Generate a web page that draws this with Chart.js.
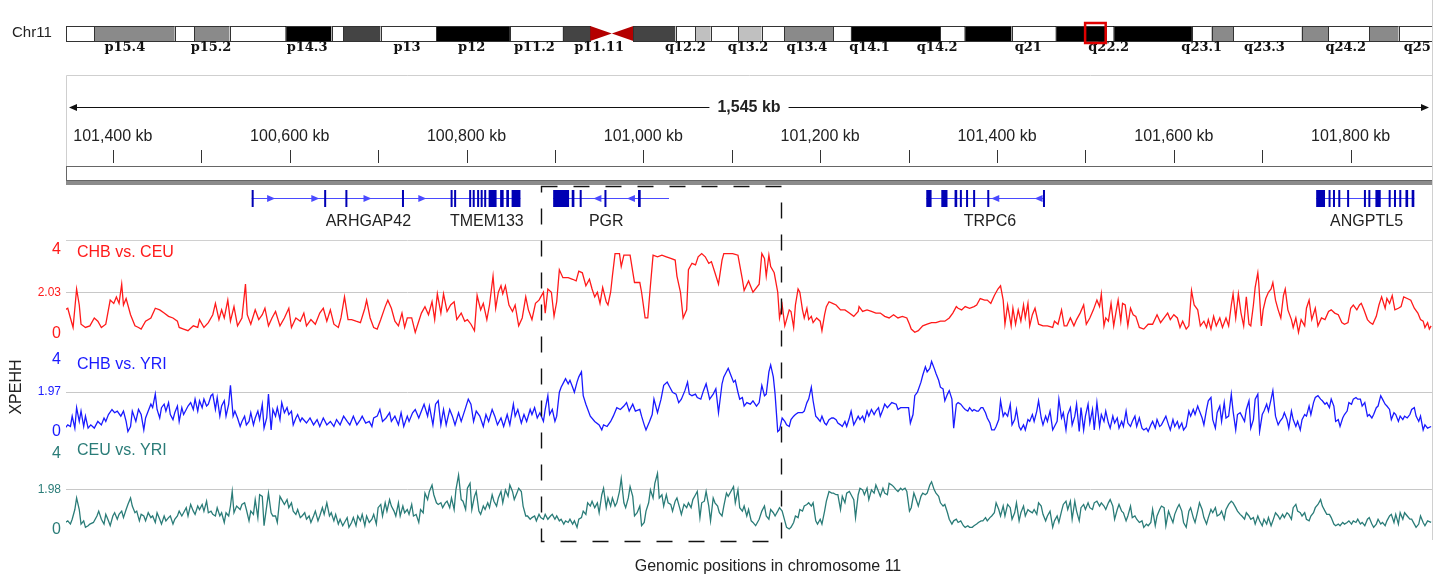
<!DOCTYPE html>
<html>
<head>
<meta charset="utf-8">
<script src="https://cdn.jsdelivr.net/npm/chart.js@4.4.0/dist/chart.umd.min.js"></script>
<style>
  html, body { margin: 0; padding: 0; background: #fff; }
  #wrap { position: relative; width: 1450px; height: 580px; }
</style>
</head>
<body>
<div id="wrap"><canvas id="xpehhChart" width="1450" height="580"></canvas></div>
<script>
// XP-EHH scores along the window, as [position kb, score]
const chbCeu = [
  [100346,1.19],[100349,1.27],[100352,0.79],[100355,0.32],[100359,2.22],[100362,1.43],[100364,0.48],[100369,0.32],[100374,0.40],[100379,0.79],
  [100383,0.63],[100387,0.32],[100392,0.48],[100397,1.67],[100401,1.51],[100404,1.83],[100407,1.51],[100410,2.46],[100412,1.43],[100415,1.75],
  [100420,0.95],[100425,0.40],[100429,0.32],[100432,0.24],[100437,0.63],[100443,0.79],[100448,1.27],[100453,1.19],[100458,1.03],[100463,0.87],
  [100468,0.79],[100473,0.63],[100475,0.32],[100480,0.24],[100485,0.16],[100491,0.40],[100496,0.32],[100498,0.71],[100503,0.32],[100508,0.56],
  [100513,0.95],[100516,1.51],[100520,0.71],[100523,1.19],[100526,0.79],[100530,1.67],[100533,0.63],[100537,1.35],[100541,0.40],[100546,0.79],
  [100550,2.46],[100552,0.95],[100556,0.48],[100561,1.19],[100565,0.71],[100569,0.95],[100572,1.27],[100576,0.40],[100580,0.79],[100584,1.11],
  [100589,0.40],[100594,0.79],[100599,1.27],[100602,0.32],[100607,0.79],[100612,0.63],[100616,1.03],[100619,0.40],[100624,0.71],[100629,0.48],
  [100634,1.03],[100638,1.27],[100642,0.63],[100646,1.19],[100650,0.48],[100655,0.32],[100658,0.79],[100662,1.83],[100666,0.71],[100670,0.71],
  [100675,0.63],[100680,0.56],[100685,1.27],[100687,1.67],[100691,0.79],[100695,0.32],[100699,0.24],[100703,0.71],[100708,1.35],[100711,1.67],
  [100715,1.27],[100719,0.63],[100723,0.40],[100727,1.03],[100730,0.32],[100733,0.79],[100738,0.79],[100742,0.08],[100746,0.63],[100749,1.03],
  [100753,1.35],[100757,0.95],[100761,1.59],[100764,0.71],[100767,1.98],[100771,1.03],[100774,1.98],[100778,1.11],[100782,1.43],[100786,1.59],
  [100789,0.71],[100794,1.03],[100798,0.63],[100801,0.71],[100805,0.48],[100809,0.16],[100812,1.90],[100816,1.19],[100819,1.51],[100823,0.71],
  [100826,1.43],[100830,2.86],[100833,1.27],[100836,2.06],[100839,2.38],[100841,1.98],[100844,2.38],[100848,1.43],[100852,1.11],[100855,1.43],
  [100859,0.40],[100863,0.79],[100867,1.83],[100870,1.19],[100874,0.71],[100878,1.51],[100882,1.67],[100884,1.83],[100887,2.06],[100889,1.03],
  [100892,2.22],[100896,2.06],[100899,0.87],[100902,1.59],[100905,3.17],[100909,2.78],[100915,2.78],[100920,2.70],[100924,2.62],[100927,3.10],
  [100931,3.02],[100935,2.38],[100939,2.70],[100942,2.22],[100945,1.83],[100948,2.06],[100951,1.51],[100954,2.30],[100958,1.59],[100960,1.43],
  [100963,2.06],[100965,2.86],[100968,3.97],[100973,3.97],[100975,3.33],[100978,3.89],[100980,3.89],[100985,3.89],[100990,2.54],[100996,2.54],
  [100998,2.06],[101002,0.79],[101005,0.79],[101008,2.38],[101011,3.89],[101016,3.81],[101021,3.89],[101026,3.81],[101031,3.73],[101036,3.65],
  [101038,2.86],[101042,2.06],[101045,0.79],[101049,1.19],[101051,3.17],[101055,3.49],[101059,3.41],[101062,3.81],[101066,3.97],[101070,3.81],
  [101074,3.49],[101077,3.57],[101081,3.02],[101085,2.46],[101089,3.65],[101091,3.97],[101094,3.97],[101101,3.97],[101107,3.89],[101112,2.70],
  [101114,2.14],[101119,2.62],[101124,2.06],[101131,2.46],[101134,3.97],[101137,3.73],[101139,2.86],[101142,3.89],[101144,3.33],[101148,3.02],
  [101152,2.06],[101154,0.79],[101157,1.43],[101160,0.40],[101162,0.71],[101165,1.19],[101167,1.11],[101170,0.32],[101172,1.43],[101175,2.22],
  [101177,2.06],[101180,1.19],[101182,0.79],[101185,1.27],[101187,0.71],[101190,0.87],[101192,0.56],[101196,0.79],[101200,0.63],[101202,0.16],
  [101205,0.95],[101207,1.35],[101210,1.59],[101214,1.51],[101218,1.43],[101223,1.19],[101228,1.19],[101233,1.03],[101238,0.87],[101243,1.11],
  [101244,1.35],[101248,1.11],[101253,1.19],[101258,1.11],[101263,1.03],[101268,1.03],[101273,0.87],[101278,0.79],[101283,0.95],[101288,0.79],
  [101293,0.87],[101298,0.79],[101301,0.48],[101303,0.24],[101307,0.08],[101311,0.16],[101316,0.40],[101321,0.48],[101326,0.56],[101331,0.56],
  [101336,0.63],[101341,0.63],[101346,0.79],[101350,1.03],[101354,1.35],[101356,1.27],[101360,1.19],[101364,1.35],[101369,1.27],[101374,1.35],
  [101377,1.43],[101381,1.75],[101386,1.67],[101389,1.67],[101393,1.51],[101397,1.90],[101401,2.22],[101404,2.38],[101407,1.67],[101409,0.48],
  [101412,1.43],[101416,0.40],[101418,1.27],[101421,0.48],[101424,1.19],[101427,0.63],[101430,1.43],[101432,0.79],[101435,1.51],[101437,0.40],
  [101440,0.95],[101443,1.27],[101447,0.48],[101452,0.40],[101457,0.40],[101463,0.32],[101465,0.63],[101469,0.48],[101473,1.19],[101476,0.40],
  [101479,0.40],[101483,0.79],[101487,0.40],[101490,0.71],[101494,1.03],[101498,1.43],[101501,0.48],[101505,0.79],[101509,1.19],[101513,1.67],
  [101516,1.35],[101518,1.98],[101521,0.40],[101523,0.79],[101526,0.63],[101529,1.51],[101532,0.40],[101535,1.19],[101537,1.67],[101540,0.63],
  [101542,1.51],[101545,1.43],[101548,0.40],[101551,1.27],[101554,0.95],[101557,0.87],[101561,0.32],[101566,0.24],[101571,0.48],[101576,0.48],
  [101581,0.95],[101585,0.56],[101589,0.79],[101593,1.03],[101596,0.71],[101600,0.95],[101604,0.79],[101607,0.32],[101610,0.63],[101614,0.24],
  [101617,0.40],[101620,2.14],[101623,1.43],[101627,1.19],[101630,0.40],[101634,0.63],[101637,0.32],[101639,0.71],[101642,0.24],[101645,0.87],
  [101648,0.40],[101652,0.79],[101655,0.32],[101659,0.79],[101662,0.40],[101665,1.43],[101667,1.98],[101670,0.79],[101673,1.98],[101676,1.03],
  [101679,0.40],[101682,1.83],[101685,0.48],[101687,0.40],[101690,1.43],[101692,2.30],[101695,3.02],[101696,2.54],[101699,0.40],[101701,1.19],
  [101704,1.75],[101707,2.06],[101710,2.22],[101712,2.54],[101715,1.67],[101718,1.19],[101721,0.79],[101724,1.90],[101726,2.22],[101729,1.19],
  [101733,0.71],[101735,0.32],[101738,0.79],[101741,0.08],[101744,0.71],[101748,0.40],[101750,1.27],[101753,1.67],[101756,0.71],[101760,1.27],
  [101763,0.40],[101767,0.79],[101771,0.71],[101775,1.11],[101778,1.19],[101782,1.03],[101786,0.95],[101790,0.56],[101793,0.48],[101797,0.56],
  [101800,1.27],[101803,1.43],[101807,1.19],[101810,1.43],[101812,1.51],[101815,1.19],[101819,0.71],[101822,0.56],[101825,0.48],[101829,0.87],
  [101832,1.43],[101835,1.83],[101839,1.27],[101841,1.75],[101844,1.51],[101847,1.90],[101850,1.19],[101854,1.27],[101857,1.35],[101860,1.83],
  [101864,1.75],[101868,1.67],[101872,1.27],[101876,1.03],[101879,0.71],[101882,0.63],[101884,0.32],[101887,0.56],[101889,0.24],[101891,0.40]
];

const chbYri = [
  [100346,0.19],[100349,0.35],[100352,0.27],[100354,0.78],[100357,0.19],[100359,1.20],[100362,0.52],[100364,1.03],[100367,0.27],[100369,0.78],
  [100372,0.19],[100375,0.35],[100379,0.19],[100383,0.52],[100387,0.35],[100390,0.69],[100392,0.52],[100395,0.86],[100399,1.11],[100402,0.95],
  [100405,1.03],[100409,0.78],[100412,1.03],[100415,0.52],[100417,0.02],[100420,0.27],[100422,1.03],[100426,0.52],[100429,1.11],[100432,0.86],
  [100435,0.10],[100437,0.69],[100440,1.03],[100443,1.37],[100445,1.20],[100448,1.87],[100450,1.11],[100453,0.69],[100455,1.20],[100458,1.37],
  [100460,1.03],[100463,1.45],[100465,0.86],[100468,0.61],[100470,0.95],[100473,1.28],[100475,0.52],[100478,1.20],[100480,0.86],[100483,1.11],
  [100485,1.28],[100488,1.45],[100491,1.11],[100493,1.62],[100496,1.03],[100498,1.54],[100501,1.20],[100503,1.62],[100506,1.28],[100508,1.37],
  [100511,1.79],[100513,1.87],[100516,1.11],[100518,1.70],[100521,0.78],[100523,1.28],[100526,1.54],[100528,0.78],[100531,1.37],[100533,2.30],
  [100536,0.78],[100538,1.03],[100541,0.69],[100544,0.27],[100546,0.52],[100549,0.78],[100551,0.35],[100554,0.52],[100556,0.95],[100559,0.35],
  [100561,0.69],[100564,1.03],[100566,0.61],[100569,1.37],[100571,0.19],[100574,0.69],[100576,1.87],[100579,0.10],[100581,1.11],[100584,0.78],
  [100586,1.20],[100589,0.61],[100591,1.45],[100594,0.95],[100597,1.20],[100599,0.86],[100602,1.03],[100604,0.35],[100607,0.69],[100609,0.86],
  [100612,0.52],[100614,0.69],[100619,0.44],[100623,0.69],[100627,0.35],[100631,0.61],[100634,0.27],[100638,0.69],[100642,0.35],[100646,0.52],
  [100650,0.27],[100653,0.61],[100657,0.35],[100661,0.78],[100665,0.52],[100668,0.35],[100672,0.78],[100676,0.35],[100680,0.61],[100682,0.78],
  [100686,0.44],[100690,0.52],[100693,0.27],[100695,0.69],[100699,0.78],[100702,1.11],[100705,0.52],[100709,0.69],[100713,0.95],[100715,0.52],
  [100719,0.78],[100723,0.35],[100726,0.95],[100729,0.27],[100733,0.78],[100735,0.52],[100739,0.95],[100742,1.11],[100746,0.69],[100749,1.03],
  [100752,1.37],[100756,0.78],[100758,1.28],[100762,0.35],[100765,1.37],[100768,1.54],[100771,0.35],[100774,1.11],[100777,0.35],[100781,1.11],
  [100784,0.78],[100787,0.35],[100791,0.95],[100794,0.52],[100799,1.20],[100802,1.62],[100805,1.37],[100808,0.52],[100811,1.03],[100815,0.78],
  [100819,0.27],[100822,0.86],[100825,0.52],[100829,1.11],[100832,0.78],[100835,0.35],[100839,0.69],[100842,0.27],[100846,0.86],[100849,0.35],
  [100853,1.37],[100855,0.78],[100858,1.11],[100862,0.44],[100865,0.86],[100868,0.52],[100872,1.11],[100874,0.86],[100877,1.20],[100880,0.69],
  [100883,0.95],[100887,0.52],[100889,1.11],[100892,1.79],[100894,0.86],[100897,1.11],[100900,0.52],[100902,0.78],[100905,1.96],[100907,2.21],
  [100910,2.46],[100912,2.63],[100915,2.38],[100917,2.55],[100920,2.21],[100922,1.96],[100925,2.46],[100927,2.72],[100930,2.97],[100932,1.79],
  [100935,1.37],[100940,0.78],[100945,0.52],[100950,0.35],[100953,0.10],[100955,0.35],[100959,0.27],[100963,0.52],[100966,0.78],[100970,1.20],
  [100974,1.11],[100978,1.28],[100981,1.45],[100984,1.03],[100988,1.37],[100991,1.03],[100996,1.11],[100998,0.78],[101001,0.35],[101003,0.10],
  [101007,0.52],[101010,0.86],[101012,1.62],[101016,0.95],[101020,1.62],[101023,2.30],[101027,2.46],[101030,2.21],[101033,1.96],[101037,1.87],
  [101040,1.45],[101043,1.62],[101047,2.04],[101050,2.46],[101052,1.87],[101055,1.79],[101059,1.87],[101061,1.70],[101065,1.62],[101068,2.04],
  [101071,2.38],[101075,1.62],[101079,1.87],[101082,2.13],[101085,0.95],[101089,2.38],[101091,2.72],[101094,2.97],[101096,3.14],[101099,2.80],
  [101102,2.46],[101104,2.55],[101107,1.96],[101109,1.62],[101112,1.70],[101114,1.28],[101117,1.45],[101121,1.37],[101124,1.54],[101128,1.28],
  [101131,1.45],[101134,2.30],[101137,1.79],[101139,1.87],[101142,2.97],[101144,3.31],[101147,2.72],[101149,1.87],[101152,0.02],[101154,0.10],
  [101157,0.69],[101160,0.52],[101162,0.35],[101165,0.27],[101167,0.61],[101170,0.78],[101172,0.86],[101175,0.95],[101180,0.95],[101182,1.03],
  [101185,1.45],[101187,1.62],[101190,2.21],[101192,1.54],[101195,0.78],[101197,0.69],[101200,0.52],[101202,0.78],[101205,0.44],[101207,0.35],
  [101210,0.61],[101213,0.69],[101215,0.69],[101218,0.61],[101220,0.44],[101223,0.35],[101225,0.27],[101228,0.52],[101230,0.27],[101233,0.69],
  [101235,1.03],[101238,0.35],[101240,0.52],[101243,0.78],[101245,0.61],[101248,0.78],[101250,0.52],[101253,1.03],[101255,0.78],[101258,1.11],
  [101261,0.86],[101263,1.03],[101266,1.20],[101268,0.78],[101271,1.11],[101273,1.37],[101276,1.20],[101281,1.45],[101286,1.37],[101288,1.11],
  [101291,1.20],[101296,1.20],[101300,1.20],[101302,0.44],[101305,0.86],[101307,1.79],[101310,1.96],[101314,2.46],[101316,2.80],[101319,3.22],
  [101321,2.97],[101324,3.14],[101326,3.48],[101329,3.14],[101331,2.89],[101334,2.55],[101336,2.21],[101339,2.13],[101341,1.54],[101344,1.87],
  [101346,2.04],[101349,1.62],[101351,0.19],[101354,1.37],[101356,1.45],[101359,1.37],[101362,1.20],[101364,1.11],[101367,1.03],[101369,1.20],
  [101372,1.03],[101374,1.11],[101377,1.03],[101379,1.03],[101382,1.20],[101384,1.20],[101387,0.95],[101389,0.69],[101392,0.44],[101394,0.10],
  [101397,0.10],[101399,0.27],[101402,0.61],[101404,1.54],[101407,0.78],[101409,0.95],[101412,0.78],[101415,1.37],[101417,0.35],[101420,0.61],
  [101422,1.11],[101425,0.27],[101427,0.10],[101430,0.35],[101432,0.10],[101435,0.61],[101437,0.52],[101440,0.86],[101442,0.52],[101445,1.03],
  [101447,1.54],[101450,0.69],[101452,0.35],[101455,0.78],[101457,0.52],[101460,1.03],[101463,0.10],[101465,0.27],[101468,0.52],[101470,1.62],
  [101473,0.69],[101475,0.95],[101478,0.10],[101480,0.86],[101483,1.20],[101485,0.35],[101488,0.78],[101490,1.37],[101493,0.02],[101495,1.20],
  [101498,0.10],[101500,0.78],[101503,1.37],[101505,0.44],[101508,1.11],[101510,0.10],[101513,1.45],[101516,0.27],[101518,0.86],[101521,0.52],
  [101523,1.03],[101526,0.44],[101528,0.19],[101531,0.78],[101533,0.44],[101536,0.69],[101538,0.19],[101541,0.52],[101543,0.27],[101546,1.03],
  [101548,0.44],[101551,0.27],[101553,0.52],[101556,0.78],[101558,0.27],[101561,0.69],[101564,0.19],[101566,0.10],[101569,0.19],[101571,0.02],
  [101574,0.35],[101576,0.52],[101579,0.19],[101581,0.61],[101584,0.27],[101586,0.35],[101589,0.61],[101591,0.78],[101594,0.35],[101596,0.10],
  [101599,0.61],[101601,0.27],[101604,0.52],[101606,0.19],[101609,0.44],[101611,0.10],[101614,0.27],[101617,1.03],[101619,0.78],[101622,1.11],
  [101624,0.86],[101627,1.28],[101629,1.03],[101632,0.69],[101634,0.35],[101637,1.11],[101639,1.54],[101642,1.70],[101644,0.61],[101647,0.19],
  [101649,0.95],[101652,1.28],[101654,0.52],[101657,1.45],[101659,0.69],[101662,0.78],[101665,1.87],[101667,1.03],[101670,0.10],[101672,0.86],
  [101675,0.95],[101677,0.78],[101680,0.52],[101682,1.11],[101685,1.54],[101687,0.19],[101690,0.61],[101692,1.62],[101695,1.87],[101697,0.02],
  [101700,0.86],[101702,1.03],[101705,1.37],[101707,1.03],[101710,1.62],[101712,2.04],[101715,0.78],[101718,0.35],[101720,0.52],[101723,0.69],
  [101725,0.95],[101728,0.61],[101730,0.19],[101733,1.03],[101735,0.61],[101738,0.27],[101740,0.52],[101743,0.10],[101745,0.61],[101748,0.86],
  [101750,0.78],[101753,1.28],[101755,0.86],[101758,1.45],[101760,1.70],[101763,1.79],[101766,1.62],[101768,1.54],[101771,1.37],[101773,1.45],
  [101776,1.20],[101778,1.62],[101781,1.28],[101783,0.52],[101786,0.61],[101788,0.27],[101791,0.69],[101793,0.86],[101796,1.03],[101798,1.45],
  [101801,1.37],[101803,1.62],[101806,1.70],[101808,1.62],[101811,1.62],[101813,1.28],[101816,1.45],[101819,0.78],[101821,0.86],[101824,0.69],
  [101826,0.86],[101829,1.20],[101831,1.28],[101834,1.79],[101836,1.62],[101839,1.37],[101841,1.28],[101844,1.11],[101846,0.61],[101849,0.95],
  [101851,0.86],[101854,0.52],[101856,0.78],[101859,0.61],[101861,0.78],[101864,0.69],[101867,0.86],[101869,1.11],[101872,1.20],[101874,0.78],
  [101877,0.52],[101879,0.78],[101882,0.10],[101884,0.35],[101887,0.19],[101891,0.27]
];

const ceuYri = [
  [100346,0.37],[100349,0.45],[100352,0.29],[100354,0.53],[100357,1.01],[100359,1.58],[100362,1.01],[100364,0.29],[100367,0.45],[100369,0.13],
  [100372,0.21],[100374,0.29],[100378,0.37],[100382,0.69],[100384,0.93],[100387,0.53],[100390,0.29],[100392,0.77],[100395,0.45],[100397,0.21],
  [100400,0.69],[100402,0.85],[100405,0.53],[100407,0.77],[100410,0.93],[100412,0.61],[100415,1.01],[100417,1.26],[100420,1.58],[100422,1.18],
  [100425,0.85],[100427,0.93],[100430,0.45],[100432,0.77],[100435,0.69],[100437,0.45],[100440,0.85],[100443,0.61],[100445,0.69],[100448,0.37],
  [100450,0.85],[100453,0.53],[100455,0.29],[100458,0.69],[100460,0.45],[100463,0.61],[100465,0.69],[100468,0.29],[100470,0.53],[100473,0.69],
  [100475,0.93],[100478,0.69],[100480,0.85],[100483,1.10],[100485,0.69],[100488,1.26],[100491,0.93],[100493,0.77],[100496,1.18],[100498,1.01],
  [100501,1.26],[100503,0.93],[100506,1.42],[100508,0.85],[100511,0.93],[100513,0.77],[100516,0.69],[100518,1.10],[100521,0.69],[100523,0.85],
  [100526,0.37],[100528,0.85],[100531,0.69],[100533,1.18],[100535,1.90],[100537,0.85],[100540,1.18],[100544,1.01],[100546,1.26],[100549,1.34],
  [100551,1.01],[100554,0.45],[100556,0.93],[100559,0.77],[100561,1.50],[100564,0.61],[100566,1.74],[100569,1.66],[100571,0.21],[100574,1.18],
  [100576,1.82],[100579,0.85],[100581,0.69],[100584,0.69],[100586,0.37],[100589,1.66],[100591,1.50],[100594,1.26],[100597,1.50],[100599,1.10],
  [100602,1.34],[100604,0.93],[100607,0.77],[100609,1.01],[100612,0.61],[100614,0.69],[100617,0.85],[100619,0.53],[100622,0.69],[100624,0.37],
  [100627,0.69],[100629,0.93],[100632,0.45],[100634,0.69],[100637,1.10],[100639,0.77],[100642,1.34],[100645,0.69],[100647,0.85],[100650,0.45],
  [100652,0.77],[100655,0.29],[100657,0.53],[100660,0.21],[100662,0.37],[100665,0.61],[100667,0.13],[100670,0.37],[100672,0.61],[100675,0.21],
  [100677,0.69],[100680,0.45],[100682,0.77],[100685,0.21],[100687,0.69],[100690,0.37],[100693,0.53],[100695,0.77],[100698,0.29],[100700,1.10],
  [100703,1.26],[100705,0.69],[100708,1.34],[100710,0.93],[100713,1.50],[100715,1.18],[100718,0.93],[100720,0.69],[100723,1.34],[100725,0.69],
  [100728,1.18],[100730,0.85],[100733,1.01],[100735,0.77],[100738,1.26],[100740,0.69],[100743,0.77],[100746,0.37],[100748,1.01],[100751,0.85],
  [100753,1.82],[100756,1.50],[100758,1.90],[100761,2.22],[100763,1.74],[100766,1.34],[100768,1.26],[100771,1.34],[100773,1.10],[100776,1.34],
  [100778,1.42],[100781,1.10],[100783,1.58],[100786,1.01],[100788,1.98],[100791,2.71],[100794,1.50],[100796,1.42],[100799,1.01],[100801,2.06],
  [100804,2.30],[100806,1.01],[100809,1.66],[100811,1.90],[100814,0.93],[100816,0.77],[100819,1.18],[100821,1.01],[100824,1.34],[100826,1.10],
  [100829,1.74],[100831,1.42],[100834,1.18],[100836,1.58],[100839,1.90],[100841,1.34],[100844,1.98],[100847,1.66],[100849,2.22],[100852,1.90],
  [100854,1.50],[100857,1.82],[100859,2.06],[100862,1.90],[100864,1.18],[100867,0.69],[100869,0.69],[100872,0.53],[100874,0.61],[100877,0.69],
  [100879,0.45],[100882,0.77],[100884,0.61],[100887,0.53],[100889,0.77],[100892,0.53],[100895,0.69],[100897,0.77],[100900,0.53],[100902,0.69],
  [100905,0.45],[100907,0.53],[100910,0.29],[100912,0.45],[100915,0.37],[100917,0.53],[100920,0.29],[100922,0.45],[100925,0.13],[100927,0.53],
  [100930,0.61],[100932,0.93],[100935,0.77],[100937,1.34],[100940,1.18],[100942,1.42],[100945,1.10],[100948,1.34],[100950,0.85],[100953,1.74],
  [100955,2.06],[100958,1.10],[100960,1.58],[100963,1.18],[100965,1.58],[100968,1.18],[100970,1.34],[100973,1.90],[100975,2.54],[100978,1.34],
  [100980,1.10],[100983,1.58],[100985,2.14],[100988,1.66],[100990,0.69],[100993,0.85],[100996,1.18],[100998,0.21],[101001,0.37],[101003,0.93],
  [101006,1.34],[101008,1.98],[101011,1.58],[101013,2.30],[101016,2.79],[101018,1.58],[101021,1.74],[101023,1.18],[101026,1.74],[101028,1.34],
  [101031,1.26],[101033,0.93],[101036,1.42],[101038,1.58],[101041,1.10],[101043,0.77],[101046,1.26],[101049,1.10],[101051,1.34],[101054,1.10],
  [101056,1.50],[101059,1.74],[101061,1.90],[101064,0.61],[101066,1.34],[101069,1.42],[101071,1.90],[101074,1.18],[101076,0.45],[101079,1.58],
  [101081,1.34],[101084,1.18],[101086,0.85],[101089,0.69],[101091,1.18],[101094,1.82],[101096,1.66],[101099,1.90],[101102,2.14],[101104,1.34],
  [101107,1.98],[101109,1.10],[101112,0.93],[101114,1.18],[101117,0.69],[101119,1.01],[101122,0.45],[101124,0.37],[101127,0.21],[101131,0.53],
  [101134,0.93],[101137,1.18],[101139,0.69],[101142,0.53],[101144,1.01],[101147,0.85],[101149,0.69],[101152,0.93],[101154,1.10],[101157,0.93],
  [101160,0.45],[101162,0.13],[101165,0.05],[101167,0.13],[101170,0.37],[101172,0.69],[101175,0.61],[101177,1.01],[101180,0.93],[101182,1.18],
  [101185,1.26],[101187,1.34],[101190,1.18],[101192,1.34],[101195,0.45],[101197,0.29],[101200,0.53],[101202,0.29],[101205,0.93],[101207,1.42],
  [101210,1.90],[101213,1.82],[101215,1.82],[101218,1.74],[101220,1.74],[101223,1.01],[101225,1.66],[101228,1.34],[101230,1.82],[101233,1.90],
  [101235,1.74],[101238,1.50],[101240,0.61],[101243,1.74],[101245,2.06],[101248,1.98],[101250,1.74],[101253,2.06],[101255,1.50],[101258,1.98],
  [101261,1.82],[101263,2.22],[101266,1.90],[101268,1.66],[101271,2.06],[101273,1.82],[101276,1.74],[101278,2.30],[101281,2.22],[101283,2.14],
  [101286,1.98],[101288,1.90],[101291,2.06],[101293,1.98],[101296,2.06],[101298,1.90],[101301,0.93],[101303,1.10],[101306,1.82],[101308,1.58],
  [101311,1.18],[101314,1.66],[101316,1.82],[101319,1.74],[101321,1.82],[101324,2.22],[101326,2.38],[101329,1.98],[101331,1.82],[101334,1.66],
  [101336,1.34],[101339,1.18],[101341,1.26],[101344,0.85],[101346,0.53],[101349,0.29],[101351,0.45],[101354,0.53],[101356,0.37],[101359,0.45],
  [101362,0.21],[101364,0.13],[101367,0.21],[101369,0.13],[101372,0.13],[101374,0.21],[101377,0.29],[101379,0.37],[101382,0.45],[101384,0.45],
  [101387,0.61],[101389,0.45],[101392,0.61],[101394,0.69],[101397,0.85],[101399,1.34],[101402,1.01],[101404,0.69],[101407,1.18],[101409,0.69],
  [101412,1.26],[101415,1.10],[101417,0.53],[101420,0.85],[101422,1.34],[101425,0.45],[101427,0.85],[101430,1.18],[101432,0.69],[101435,1.01],
  [101437,0.93],[101440,0.85],[101442,1.01],[101445,0.77],[101447,1.34],[101450,1.18],[101452,0.77],[101455,0.45],[101457,0.69],[101460,0.93],
  [101463,0.13],[101465,0.45],[101468,0.69],[101470,0.37],[101473,0.93],[101475,1.26],[101478,1.42],[101480,1.01],[101483,1.42],[101485,0.53],
  [101488,1.42],[101490,0.93],[101493,0.45],[101495,1.10],[101498,1.26],[101500,1.01],[101503,1.34],[101505,1.10],[101508,1.01],[101510,1.34],
  [101513,1.42],[101516,1.18],[101518,1.34],[101521,1.18],[101523,1.01],[101526,1.34],[101528,1.50],[101531,1.18],[101533,0.53],[101536,1.01],
  [101538,1.26],[101541,0.93],[101543,0.85],[101546,0.45],[101548,0.69],[101551,1.18],[101553,0.61],[101556,0.69],[101558,0.53],[101561,0.37],
  [101564,0.45],[101566,0.13],[101569,0.29],[101571,0.21],[101574,0.37],[101576,1.01],[101579,0.21],[101581,0.69],[101584,1.01],[101586,1.18],
  [101589,1.10],[101591,0.21],[101594,0.93],[101596,0.69],[101599,0.37],[101601,0.77],[101604,1.10],[101606,1.26],[101609,0.93],[101611,0.37],
  [101614,0.13],[101617,0.93],[101619,1.10],[101622,0.61],[101624,0.37],[101627,0.93],[101629,1.34],[101632,1.01],[101634,0.61],[101637,0.29],
  [101639,0.61],[101642,1.01],[101644,0.85],[101647,1.10],[101649,0.69],[101652,0.77],[101654,0.93],[101657,0.53],[101659,1.01],[101662,1.26],
  [101665,1.42],[101667,1.34],[101670,1.10],[101672,0.93],[101675,0.77],[101677,0.69],[101680,0.53],[101682,0.85],[101685,0.69],[101687,0.53],
  [101690,0.61],[101692,0.29],[101695,0.69],[101697,0.45],[101700,0.21],[101702,0.53],[101705,0.29],[101707,0.61],[101710,0.21],[101712,0.45],
  [101715,0.85],[101718,0.69],[101720,0.53],[101723,0.77],[101725,0.61],[101728,0.85],[101730,0.77],[101733,0.53],[101735,1.10],[101738,1.26],
  [101740,0.93],[101743,0.85],[101745,0.69],[101748,0.85],[101750,0.53],[101753,0.45],[101755,0.69],[101758,0.85],[101760,1.10],[101763,1.26],
  [101766,1.50],[101768,1.18],[101771,0.93],[101773,0.77],[101776,0.77],[101778,0.61],[101781,0.29],[101783,0.21],[101786,0.29],[101788,0.21],
  [101791,0.37],[101793,0.29],[101796,0.37],[101798,0.45],[101801,0.29],[101803,0.45],[101806,0.37],[101808,0.53],[101811,0.29],[101813,0.37],
  [101816,0.21],[101819,0.53],[101821,0.61],[101824,0.29],[101826,0.13],[101829,0.29],[101831,0.53],[101834,0.29],[101836,0.37],[101839,0.21],
  [101841,0.45],[101844,0.69],[101846,0.77],[101849,0.37],[101851,0.77],[101854,0.29],[101856,0.85],[101859,0.53],[101861,0.85],[101864,0.69],
  [101867,0.53],[101869,0.53],[101872,0.29],[101874,0.13],[101877,0.29],[101879,0.69],[101882,0.37],[101884,0.21],[101887,0.45],[101891,0.37]
];

const trackNames = ['CHB vs. CEU', 'CHB vs. YRI', 'CEU vs. YRI'];
const thresholds = [2.03, 1.97, 1.98];

// ruler (kb)
const rulerTicks = [100400, 100500, 100600, 100700, 100800, 100900, 101000, 101100, 101200, 101300, 101400, 101500, 101600, 101700, 101800];
const rulerLabelAt = [100400, 100600, 100800, 101000, 101200, 101400, 101600, 101800];
const rulerLabels = ['101,400 kb', '100,600 kb', '100,800 kb', '101,000 kb', '101,200 kb', '101,400 kb', '101,600 kb', '101,800 kb'];
const spanLabel = '1,545 kb';
const pgrBox = [100884, 101155];

// genes (kb)
const geneNames = ['ARHGAP42', 'TMEM133', 'PGR', 'TRPC6', 'ANGPTL5'];
const geneSpans = [[100557, 100803], [100803, 100861], [100898, 101029], [101320, 101453], [101761, 101872]];
const geneLabelAt = [100689, 100823, 100958, 101392, 101818];
const geneExons = [
  [[100557,100559],[100639,100641],[100663,100665],[100727,100729],[100782,100784],[100786,100788]],
  [[100803,100804],[100807,100808],[100812,100814],[100816,100818],[100820,100822],[100825,100834],[100838,100842],[100845,100848],[100851,100861]],
  [[100898,100916],[100919,100922],[100928,100930],[100956,100958],[100994,100997]],
  [[101320,101326],[101337,101344],[101352,101355],[101358,101360],[101365,101367],[101373,101375],[101389,101390],[101452,101453]],
  [[101761,101771],[101775,101777],[101780,101782],[101786,101788],[101796,101798],[101815,101817],[101820,101822],[101828,101834],[101843,101845],[101849,101851],[101855,101857],[101862,101865],[101869,101872]]
];
const geneArrows = [[100579, 100629, 100688, 100750], [], [100948, 100986], [101398, 101447], []];
const geneStrands = [1, 1, -1, -1, 1];

// chromosome 11 ideogram (drawn position, Mb)
const bandStart = [0, 2.9, 11.1, 13.1, 16.7, 22.4, 27.1, 28.3, 32.1, 37.8, 45.3, 50.7, 53.5, 57.9, 62.2, 64.2, 65.8, 68.6, 71.0, 73.3, 78.3, 80.1, 89.2, 91.7, 96.5, 101.0, 106.1, 106.9, 114.9, 116.9, 119.1, 126.1, 128.8, 133.0, 136.0];
const bandEnd = [2.9, 11.1, 13.1, 16.7, 22.4, 27.1, 28.3, 32.1, 37.8, 45.3, 50.7, 53.5, 57.9, 62.2, 64.2, 65.8, 68.6, 71.0, 73.3, 78.3, 80.1, 89.2, 91.7, 96.5, 101.0, 106.1, 106.9, 114.9, 116.9, 119.1, 126.1, 128.8, 133.0, 136.0, 142.0];
const bandStain = ['gneg', 'gpos50', 'gneg', 'gpos50', 'gneg', 'gpos100', 'gneg', 'gpos75', 'gneg', 'gpos100', 'gneg', 'gpos75', 'acen', 'gpos75', 'gneg', 'gpos25', 'gneg', 'gpos25', 'gneg', 'gpos50', 'gneg', 'gpos100', 'gneg', 'gpos100', 'gneg', 'gpos100', 'gneg', 'gpos100', 'gneg', 'gpos50', 'gneg', 'gpos50', 'gneg', 'gpos50', 'gneg'];
const bandNames = ['p15.4', 'p15.2', 'p14.3', 'p13', 'p12', 'p11.2', 'p11.11', 'q12.2', 'q13.2', 'q13.4', 'q14.1', 'q14.2', 'q21', 'q22.2', 'q23.1', 'q23.3', 'q24.2', 'q25'];
const bandNameAt = [6.0, 14.8, 24.6, 34.8, 41.4, 47.8, 54.4, 63.2, 69.6, 75.6, 82.0, 88.9, 98.2, 106.4, 115.9, 122.3, 130.6, 137.9];
const viewBand = [104.0, 106.1];

const colors = ['#ff1a1a', '#1a1aff', '#2a7c78'];
const stainFill = { gneg: '#ffffff', gpos25: '#c0c0c0', gpos50: '#8a8a8a', gpos75: '#444444', gpos100: '#000000' };
const exonBlue = '#0000b4';
const intronBlue = '#4a4aff';
const SANS = '"Liberation Sans", Arial, sans-serif';
// vertical nudges of the "4" tick label and of the track name, px
const topLabelShift = [-3, 9, 5];
const nameShift = [0, 14, 2];

function trackAxis(i, weight) {
  const isTop = c => c.tick && c.tick.value === 4;
  const isThr = c => c.tick && c.tick.value === thresholds[i];
  return {
    type: 'linear',
    position: 'left',
    stack: 'tracks',
    weight: weight,
    min: -0.2,
    max: 4.64,
    afterBuildTicks: s => { s.ticks = [0, thresholds[i], 4].map(v => ({ value: v })); },
    afterFit: s => { s.width = 66; },
    border: { display: false },
    grid: {
      drawTicks: false,
      lineWidth: 1,
      color: c => isThr(c) ? '#c8c8c8' : 'rgba(0,0,0,0)'
    },
    ticks: {
      autoSkip: false,
      padding: 5,
      color: colors[i],
      font: c => isThr(c)
        ? { family: SANS, size: 12 }
        : { family: SANS, size: 16, lineHeight: isTop(c) ? (2 * Math.abs(topLabelShift[i])) + 'px' : 1.2 },
      callback: v => {
        if (v === thresholds[i]) return v.toFixed(2);
        if (v === 4) return topLabelShift[i] < 0 ? ['4', ''] : ['', '4'];
        return String(v);
      }
    },
    title: i === 1
      ? { display: true, text: 'XPEHH', color: '#222', font: { family: SANS, size: 16 }, padding: { top: 7, bottom: 0 } }
      : { display: false }
  };
}

const decorations = {
  id: 'decorations',
  afterDraw(chart) {
    const { ctx, chartArea } = chart;
    const xs = chart.scales.x;
    const xc = chart.scales.xc;
    const L = chartArea.left, R = chartArea.right;
    ctx.save();

    // ideogram
    ctx.fillStyle = '#222';
    ctx.font = '15px ' + SANS;
    ctx.textAlign = 'left';
    ctx.textBaseline = 'middle';
    ctx.fillText('Chr11', 12, 33);

    ctx.save();
    ctx.beginPath();
    ctx.rect(0, 0, R, 70);
    ctx.clip();
    const iy = 26, ih = 15;
    bandStart.forEach((s, k) => {
      const x0 = xc.getPixelForValue(s), x1 = xc.getPixelForValue(bandEnd[k]);
      if (bandStain[k] === 'acen') {
        const xm = (x0 + x1) / 2;
        ctx.fillStyle = '#b40000';
        ctx.beginPath();
        ctx.moveTo(x0, iy); ctx.lineTo(xm, iy + ih / 2); ctx.lineTo(x0, iy + ih); ctx.closePath();
        ctx.moveTo(x1, iy); ctx.lineTo(xm, iy + ih / 2); ctx.lineTo(x1, iy + ih); ctx.closePath();
        ctx.fill();
      } else {
        ctx.fillStyle = stainFill[bandStain[k]];
        ctx.fillRect(x0, iy, x1 - x0, ih);
        ctx.strokeStyle = '#333';
        ctx.lineWidth = 1;
        ctx.strokeRect(Math.round(x0) + 0.5, iy + 0.5, Math.round(x1) - Math.round(x0), ih);
      }
    });
    ctx.fillStyle = '#111';
    ctx.font = 'bold 13px "DejaVu Serif", serif';
    ctx.textAlign = 'center';
    bandNames.forEach((n, k) => ctx.fillText(n, xc.getPixelForValue(bandNameAt[k]), 48));
    ctx.restore();
    ctx.strokeStyle = '#e00000';
    ctx.lineWidth = 2.5;
    const hx0 = xc.getPixelForValue(viewBand[0]), hx1 = xc.getPixelForValue(viewBand[1]);
    ctx.strokeRect(hx0, 23, hx1 - hx0, 20);

    // ruler box
    ctx.strokeStyle = '#cfcfcf';
    ctx.lineWidth = 1;
    ctx.beginPath();
    ctx.moveTo(L + 0.5, 185); ctx.lineTo(L + 0.5, 75.5); ctx.lineTo(R, 75.5);
    ctx.stroke();

    const ay = 107.5;
    ctx.font = 'bold 16px ' + SANS;
    const tw = ctx.measureText(spanLabel).width;
    const mid = (L + R) / 2;
    ctx.strokeStyle = '#111';
    ctx.lineWidth = 1.2;
    ctx.beginPath();
    ctx.moveTo(L + 4, ay); ctx.lineTo(mid - tw / 2 - 8, ay);
    ctx.moveTo(mid + tw / 2 + 8, ay); ctx.lineTo(R - 4, ay);
    ctx.stroke();
    ctx.fillStyle = '#111';
    ctx.beginPath();
    ctx.moveTo(L + 3, ay); ctx.lineTo(L + 11, ay - 3.5); ctx.lineTo(L + 11, ay + 3.5); ctx.closePath();
    ctx.moveTo(R - 3, ay); ctx.lineTo(R - 11, ay - 3.5); ctx.lineTo(R - 11, ay + 3.5); ctx.closePath();
    ctx.fill();
    ctx.fillStyle = '#222';
    ctx.textAlign = 'center';
    ctx.textBaseline = 'middle';
    ctx.fillText(spanLabel, mid, ay);

    ctx.font = '16px ' + SANS;
    rulerLabelAt.forEach((v, k) => ctx.fillText(rulerLabels[k], xs.getPixelForValue(v), 137));
    ctx.strokeStyle = '#333';
    ctx.lineWidth = 1;
    ctx.beginPath();
    rulerTicks.forEach(v => {
      const x = Math.round(xs.getPixelForValue(v)) + 0.5;
      ctx.moveTo(x, 150); ctx.lineTo(x, 163);
    });
    ctx.stroke();
    ctx.strokeStyle = '#666';
    ctx.strokeRect(L + 0.5, 166.5, R - L, 14);
    ctx.fillStyle = '#8c8c8c';
    ctx.fillRect(L, 181, R - L, 4);

    // genes
    const gy = 198.5;
    geneNames.forEach((name, g) => {
      const gs = xs.getPixelForValue(geneSpans[g][0]), ge = xs.getPixelForValue(geneSpans[g][1]);
      ctx.strokeStyle = intronBlue;
      ctx.lineWidth = 1;
      ctx.beginPath(); ctx.moveTo(gs, gy); ctx.lineTo(ge, gy); ctx.stroke();
      ctx.fillStyle = intronBlue;
      geneArrows[g].forEach(v => {
        const x = xs.getPixelForValue(v), d = geneStrands[g] * 4;
        ctx.beginPath(); ctx.moveTo(x + d, gy); ctx.lineTo(x - d, gy - 3.5); ctx.lineTo(x - d, gy + 3.5); ctx.closePath(); ctx.fill();
      });
      ctx.fillStyle = exonBlue;
      geneExons[g].forEach(([a, b]) => {
        const xa = xs.getPixelForValue(a), xb = Math.max(xs.getPixelForValue(b), xa + 2);
        ctx.fillRect(xa, gy - 8.5, xb - xa, 17);
      });
      ctx.fillStyle = '#222';
      ctx.font = '16px ' + SANS;
      ctx.fillText(name, xs.getPixelForValue(geneLabelAt[g]), 222);
    });

    // track frame
    ctx.strokeStyle = '#d0d0d0';
    ctx.lineWidth = 1;
    ctx.beginPath();
    ctx.moveTo(L, chartArea.top + 0.5); ctx.lineTo(R, chartArea.top + 0.5);
    ctx.moveTo(R + 0.5, 0); ctx.lineTo(R + 0.5, 540);
    ctx.stroke();

    // track names
    ctx.textAlign = 'left';
    ctx.font = '16px ' + SANS;
    ['yr', 'yb', 'yt'].forEach((id, i) => {
      const s = chart.scales[id];
      ctx.fillStyle = colors[i];
      ctx.fillText(trackNames[i], L + 11, s.getPixelForValue(4) + nameShift[i]);
    });

    // highlighted PGR region
    const bx0 = xs.getPixelForValue(pgrBox[0]), bx1 = xs.getPixelForValue(pgrBox[1]);
    ctx.strokeStyle = '#111';
    ctx.lineWidth = 1.4;
    ctx.setLineDash([16, 16]);
    ctx.strokeRect(Math.round(bx0) + 0.5, 186.5, Math.round(bx1 - bx0), 355);
    ctx.setLineDash([]);

    ctx.fillStyle = '#222';
    ctx.textAlign = 'center';
    ctx.font = '16px ' + SANS;
    ctx.fillText('Genomic positions in chromosome 11', 768, 567);
    ctx.restore();
  }
};

const series = [chbCeu, chbYri, ceuYri];
const axisIds = ['yr', 'yb', 'yt'];

new Chart(document.getElementById('xpehhChart'), {
  type: 'line',
  data: {
    datasets: series.map((d, i) => ({
      label: trackNames[i],
      data: d,
      xAxisID: 'x',
      yAxisID: axisIds[i],
      borderColor: colors[i],
      borderWidth: 1.3,
      pointRadius: 0,
      tension: 0,
      fill: false
    }))
  },
  options: {
    responsive: false,
    animation: false,
    events: [],
    layout: { padding: { top: 240, right: 18, bottom: 46, left: 0 } },
    scales: {
      x: { type: 'linear', min: 100347, max: 101892, display: false },
      xc: { type: 'linear', axis: 'x', position: 'bottom', min: 0, max: 139.4, display: false },
      yr: trackAxis(0, 3),
      yb: trackAxis(1, 2),
      yt: trackAxis(2, 1)
    },
    plugins: {
      legend: { display: false },
      tooltip: { enabled: false },
      title: { display: false }
    }
  },
  plugins: [decorations]
});
</script>
</body>
</html>
